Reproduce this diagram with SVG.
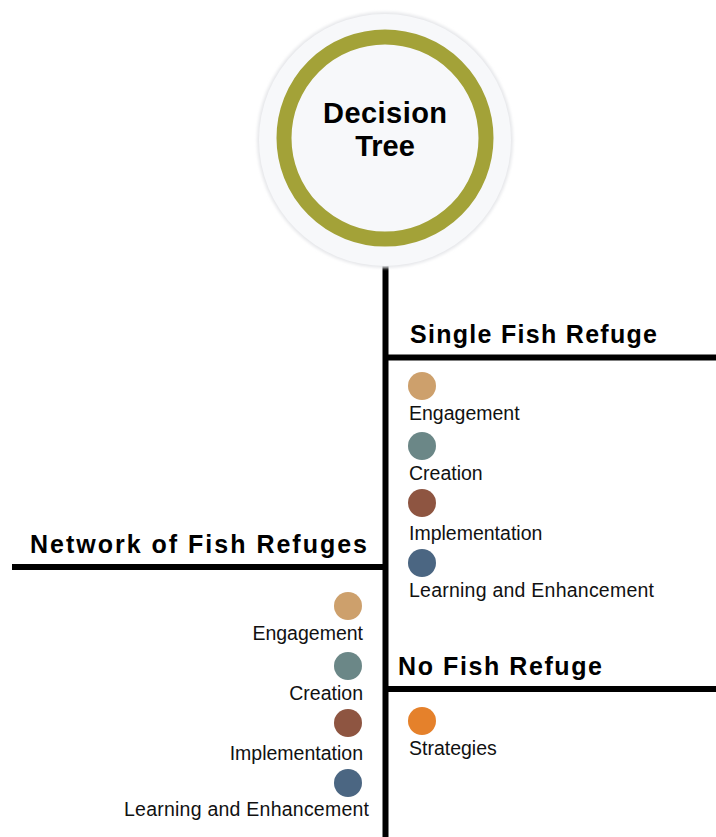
<svg xmlns="http://www.w3.org/2000/svg" width="716" height="837" viewBox="0 0 716 837">
  <style>
    .line { stroke: #000; stroke-width: 6; fill: none; }
    .head { font-family: "Liberation Sans", Arial, sans-serif; font-weight: bold; font-size: 25px; fill: #000; }
    .title { font-family: "Liberation Sans", Arial, sans-serif; font-weight: bold; font-size: 29px; fill: #000; text-anchor: middle; }
    .label { font-family: "Liberation Sans", Arial, sans-serif; font-size: 19.5px; fill: #111; }
    .right { text-anchor: end; }
    .engage { fill: #cda06c; }
    .create { fill: #6b8787; }
    .implement { fill: #8e5541; }
    .learn { fill: #4b6682; }
    .strat { fill: #e5812b; }
  </style>
  <defs>
    <filter id="soft" x="-10%" y="-10%" width="120%" height="120%">
      <feGaussianBlur stdDeviation="1.5"/>
    </filter>
  </defs>
  <rect width="716" height="837" fill="#fff"/>

  <!-- connectors -->
  <g id="connectors">
    <line class="line" x1="385.5" y1="262" x2="385.5" y2="837"/>
    <line class="line" x1="385.5" y1="357.5" x2="716" y2="357.5"/>
    <line class="line" x1="12" y1="567" x2="385.5" y2="567"/>
    <line class="line" x1="385.5" y1="689" x2="716" y2="689"/>
  </g>

  <!-- root -->
  <g id="decision-tree">
    <circle cx="385" cy="140" r="128" fill="#e6e7ea" filter="url(#soft)"/>
    <circle cx="385" cy="140" r="126" fill="#f7f8fa"/>
    <circle cx="385" cy="138" r="101" fill="none" stroke="#a3a238" stroke-width="15"/>
    <text class="title" x="385" y="123" textLength="124">Decision</text>
    <text class="title" x="385" y="156">Tree</text>
  </g>

  <!-- single fish refuge -->
  <g id="single-fish-refuge">
    <text class="head" x="410" y="343" textLength="247">Single Fish Refuge</text>
    <circle class="engage" cx="422" cy="386" r="14"/>
    <text class="label" x="409" y="420">Engagement</text>
    <circle class="create" cx="422" cy="446" r="14"/>
    <text class="label" x="409" y="480">Creation</text>
    <circle class="implement" cx="422" cy="503" r="14"/>
    <text class="label" x="409" y="540">Implementation</text>
    <circle class="learn" cx="422" cy="563" r="14"/>
    <text class="label" x="409" y="597" textLength="245">Learning and Enhancement</text>
  </g>

  <!-- network of fish refuges -->
  <g id="network-of-fish-refuges">
    <text class="head" x="30" y="553" textLength="337">Network of Fish Refuges</text>
    <circle class="engage" cx="348" cy="606" r="14"/>
    <text class="label right" x="363" y="640">Engagement</text>
    <circle class="create" cx="348" cy="666" r="14"/>
    <text class="label right" x="363" y="700">Creation</text>
    <circle class="implement" cx="348" cy="723" r="14"/>
    <text class="label right" x="363" y="760">Implementation</text>
    <circle class="learn" cx="348" cy="783" r="14"/>
    <text class="label" x="124" y="816" textLength="245">Learning and Enhancement</text>
  </g>

  <!-- no fish refuge -->
  <g id="no-fish-refuge">
    <text class="head" x="398" y="675" textLength="204">No Fish Refuge</text>
    <circle class="strat" cx="422" cy="721" r="14"/>
    <text class="label" x="409" y="755">Strategies</text>
  </g>
</svg>
